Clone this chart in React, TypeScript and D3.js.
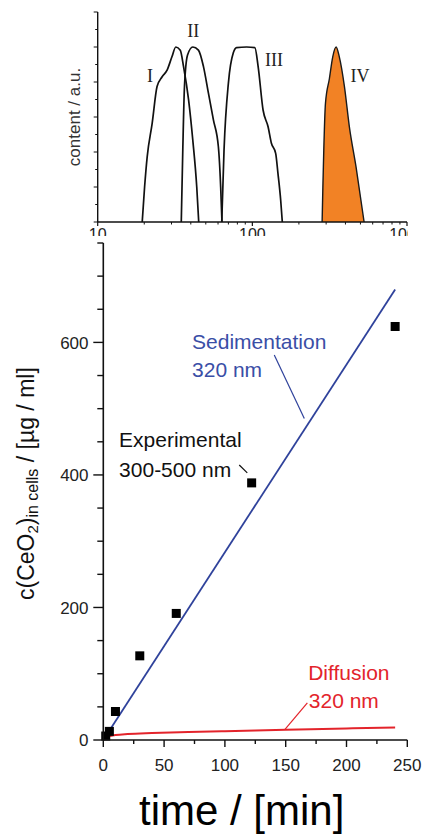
import React from "react";
import * as d3 from "d3";

// ---- top panel: size distributions (x = size, log; y = content a.u.)
const sizeI = [19.4, 20.1, 20.9, 22.5, 24.2, 26.1, 28.1, 30.2, 32.0, 34.2, 35.9, 38.7, 41.2, 43.7, 45.0];
const contentI = [0, 1.0, 1.87, 2.82, 3.87, 4.15, 4.34, 4.72, 5.0, 4.91, 4.44, 3.49, 2.34, 1.0, 0];
const sizeII = [34.7, 35.5, 36.4, 38.1, 41.2, 44.8, 48.3, 52.0, 56.0, 60.3, 62.4, 63.6];
const contentII = [0, 2.06, 3.87, 4.77, 5.0, 4.91, 4.44, 3.68, 2.92, 2.15, 1.0, 0];
const sizeIII = [63.4, 65.6, 70.0, 75.4, 79.1, 91.8, 103.8, 109.0, 117.3, 126.4, 132.8, 141.5, 146.4, 152.5, 156.2];
const contentIII = [0, 2.06, 3.97, 4.84, 4.98, 5.0, 4.98, 4.44, 3.2, 2.72, 2.25, 1.96, 1.39, 0.62, 0];
const sizeIV = [282.6, 297, 315, 331, 348, 365, 394, 424, 468, 528];
const contentIV = [0, 3.39, 4.1, 4.72, 5.0, 4.72, 3.87, 2.72, 1.58, 0];
const peakLabels = ["I", "II", "III", "IV"];
const peakLabelSize = [21.8, 41.5, 138, 497];
const peakLabelContent = [4.0, 5.3, 4.45, 4.0];
const topXTicks = [10, 100, 1000];

// ---- bottom panel: uptake vs time
const expTime = [2, 5, 10, 30, 60, 122, 240];
const expConc = [6, 13, 43, 127, 191, 388, 624];
const sedTime = [0, 240];
const sedConc = [0, 680];
const diffTime = [0, 2, 5, 10, 20, 40, 70, 100, 150, 200, 240];
const diffConc = [0, 4, 6, 7.5, 9, 10.5, 12, 13.3, 15.3, 17.5, 19];
const yTickLabels = [0, 200, 400, 600];
const xTickLabels = [0, 50, 100, 150, 200, 250];

const BLUE = "#2f429b";
const BLUE_TEXT = "#3a4ea6";
const RED = "#e3242b";
const ORANGE = "#f28225";
const SANS = "'Liberation Sans', Arial, Helvetica, sans-serif";
const SERIF = "'Liberation Serif', 'Times New Roman', serif";

export default function App() {
  const tx = d3.scaleLog().domain([10, 1000]).range([97.7, 407]);
  const ty = d3.scaleLinear().domain([0, 6]).range([222, 12]);
  const bx = d3.scaleLinear().domain([0, 250]).range([103.3, 407.3]);
  const by = d3.scaleLinear().domain([0, 750]).range([740, 243]);

  const topLine = d3
    .line<[number, number]>()
    .x((d) => tx(d[0]))
    .y((d) => ty(d[1]))
    .curve(d3.curveMonotoneX);
  const zip = (a: number[], b: number[]) => a.map((v, i) => [v, b[i]] as [number, number]);

  const topMinor: number[] = [];
  [10, 100].forEach((dec) => {
    for (let k = 2; k <= 9; k++) topMinor.push(dec * k);
  });
  const topYTicks = d3.range(0, 6.01, 0.5);

  const botLine = d3
    .line<[number, number]>()
    .x((d) => bx(d[0]))
    .y((d) => by(d[1]));
  const diffLine = d3
    .line<[number, number]>()
    .x((d) => bx(d[0]))
    .y((d) => by(d[1]))
    .curve(d3.curveMonotoneX);

  const yTicksAll = d3.range(0, 751, 50);
  const xTicksAll = d3.range(0, 251, 25);

  return (
    <svg
      width={424}
      height={835}
      style={{ position: "absolute", left: 0, top: 0, background: "white" }}
    >
      <defs>
        <clipPath id="topClip">
          <rect x={0} y={0} width={408} height={236} />
        </clipPath>
      </defs>

      {/* ---------- top panel ---------- */}
      <g clipPath="url(#topClip)">
        <path
          d={topLine(zip(sizeIV, contentIV)) || ""}
          fill={ORANGE}
          stroke="#1a1a1a"
          strokeWidth={1.4}
        />
        {[zip(sizeI, contentI), zip(sizeII, contentII), zip(sizeIII, contentIII)].map((pts, i) => (
          <path key={i} d={topLine(pts) || ""} fill="none" stroke="#111" strokeWidth={1.7} />
        ))}
        {/* axes */}
        <line x1={tx(10)} x2={tx(1000)} y1={ty(0)} y2={ty(0)} stroke="#111" strokeWidth={1.4} />
        <line x1={tx(10)} x2={tx(10)} y1={ty(0)} y2={ty(6)} stroke="#111" strokeWidth={1.4} />
        {topYTicks.map((v, i) => (
          <line
            key={"ty" + i}
            x1={tx(10) - (i % 2 === 0 ? 4 : 2.5)}
            x2={tx(10)}
            y1={ty(v)}
            y2={ty(v)}
            stroke="#111"
            strokeWidth={1}
          />
        ))}
        {topMinor.map((v) => (
          <line key={"tm" + v} x1={tx(v)} x2={tx(v)} y1={ty(0)} y2={ty(0) + 2.5} stroke="#111" strokeWidth={1} />
        ))}
        {topXTicks.map((v) => (
          <g key={"tx" + v}>
            <line x1={tx(v)} x2={tx(v)} y1={ty(0)} y2={ty(0) + 4} stroke="#111" strokeWidth={1.2} />
            <text x={tx(v)} y={ty(0) + 18} textAnchor="middle" fontFamily={SANS} fontSize={16} fill="#222">
              {v}
            </text>
          </g>
        ))}
        {peakLabels.map((l, i) => (
          <text
            key={l}
            x={tx(peakLabelSize[i])}
            y={ty(peakLabelContent[i])}
            textAnchor="middle"
            fontFamily={SERIF}
            fontSize={18}
            fill="#222"
          >
            {l}
          </text>
        ))}
        <text
          transform={`translate(80,${ty(3.0)}) rotate(-90)`}
          textAnchor="middle"
          fontFamily={SANS}
          fontSize={17}
          fill="#333"
        >
          content / a.u.
        </text>
      </g>

      {/* white cover of lower panel */}
      <rect x={0} y={236} width={424} height={599} fill="white" />

      {/* ---------- bottom panel ---------- */}
      <g>
        {/* annotations leaders */}
        <path d={botLine([[140.6, 581], [165.3, 485]]) || ""} stroke={BLUE} strokeWidth={1.2} fill="none" />
        <path d={botLine([[111.8, 415], [118.4, 403]]) || ""} stroke="#111" strokeWidth={1.2} fill="none" />
        <path d={botLine([[167.8, 56], [149.4, 16]]) || ""} stroke={RED} strokeWidth={1.2} fill="none" />

        <path d={botLine(zip(sedTime, sedConc)) || ""} stroke={BLUE} strokeWidth={1.8} fill="none" />
        <path d={diffLine(zip(diffTime, diffConc)) || ""} stroke={RED} strokeWidth={2} fill="none" />
        {expTime.map((t, i) => (
          <rect key={"sq" + i} x={bx(t) - 4.5} y={by(expConc[i]) - 4.5} width={9} height={9} fill="#000" />
        ))}

        {/* axes */}
        <line x1={bx(0)} x2={bx(0)} y1={by(0)} y2={by(750)} stroke="#111" strokeWidth={1.6} />
        <line x1={bx(0)} x2={bx(250)} y1={by(0)} y2={by(0)} stroke="#111" strokeWidth={1.6} />
        {yTicksAll.map((v) => (
          <line
            key={"by" + v}
            x1={bx(0) - (v % 200 === 0 ? 10 : 6)}
            x2={bx(0)}
            y1={by(v)}
            y2={by(v)}
            stroke="#111"
            strokeWidth={1.4}
          />
        ))}
        {xTicksAll.map((v) => (
          <line
            key={"bx" + v}
            x1={bx(v)}
            x2={bx(v)}
            y1={by(0)}
            y2={by(0) + (v % 50 === 0 ? 7 : 4)}
            stroke="#111"
            strokeWidth={1.4}
          />
        ))}
        {yTickLabels.map((v) => (
          <text
            key={"yl" + v}
            x={88.5}
            y={by(v)}
            dy="0.36em"
            textAnchor="end"
            fontFamily={SANS}
            fontSize={17}
            fill="#222"
          >
            {v}
          </text>
        ))}
        {xTickLabels.map((v) => (
          <text
            key={"xl" + v}
            x={bx(v)}
            y={by(0) + 31}
            textAnchor="middle"
            fontFamily={SANS}
            fontSize={17}
            fill="#222"
          >
            {v}
          </text>
        ))}

        {/* series labels */}
        <text fontFamily={SANS} fontSize={21} fill={BLUE_TEXT}>
          <tspan x={bx(73)} y={by(590)}>Sedimentation</tspan>
          <tspan x={bx(73)} y={by(548)}>320 nm</tspan>
        </text>
        <text fontFamily={SANS} fontSize={21} fill="#111">
          <tspan x={bx(13)} y={by(442)}>Experimental</tspan>
          <tspan x={bx(13)} y={by(397)}>300-500 nm</tspan>
        </text>
        <text fontFamily={SANS} fontSize={21} fill={RED}>
          <tspan x={bx(168.5)} y={by(90.5)}>Diffusion</tspan>
          <tspan x={bx(169)} y={by(48)}>320 nm</tspan>
        </text>

        {/* axis titles */}
        <text
          transform="translate(34,600) rotate(-90)"
          fontFamily={SANS}
          fontSize={23}
          fill="#111"
        >
          c(CeO
          <tspan fontSize={15} dy={4}>2</tspan>
          <tspan dy={-4}>)</tspan>
          <tspan fontSize={16} dy={4}>in cells</tspan>
          <tspan dy={-4}> / [µg / ml]</tspan>
        </text>
        <text x={241.7} y={825} textAnchor="middle" fontFamily={SANS} fontSize={42} fill="#000">
          time / [min]
        </text>
      </g>
    </svg>
  );
}
